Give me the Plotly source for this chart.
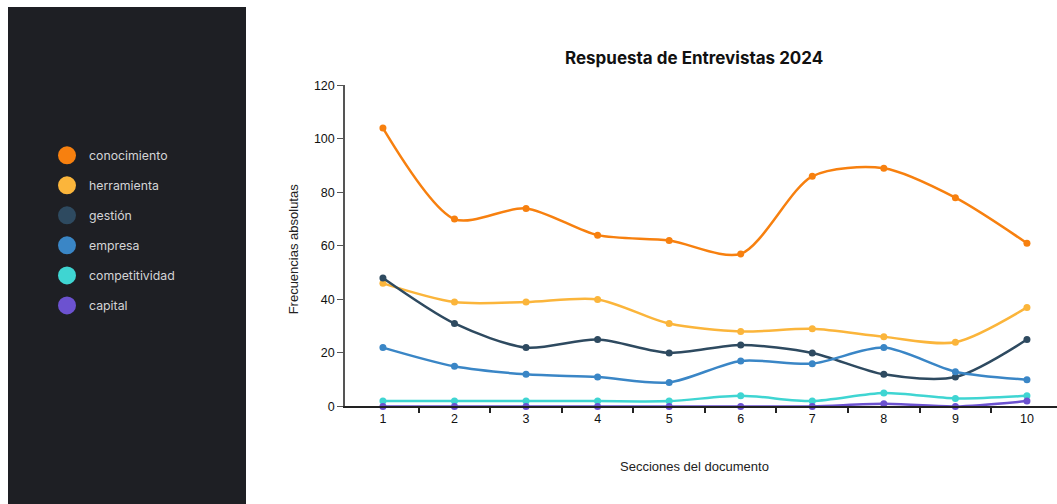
import plotly.graph_objects as go

W, H = 1057, 512
Y_OFF, Y_SCALE = 6.8, 0.972  # page-to-screen vertical placement

secciones = [1, 2, 3, 4, 5, 6, 7, 8, 9, 10]
conocimiento = [104, 70, 74, 64, 62, 57, 86, 89, 78, 61]
herramienta = [46, 39, 39, 40, 31, 28, 29, 26, 24, 37]
gestion = [48, 31, 22, 25, 20, 23, 20, 12, 11, 25]
empresa = [22, 15, 12, 11, 9, 17, 16, 22, 13, 10]
competitividad = [2, 2, 2, 2, 2, 4, 2, 5, 3, 4]
capital = [0, 0, 0, 0, 0, 0, 0, 1, 0, 2]

nombres = ["conocimiento", "herramienta", "gestión", "empresa", "competitividad", "capital"]
colores = ["#F7800F", "#FBB53B", "#2E4A60", "#3A86C6", "#3FD5D2", "#6C52D0"]
series = [conocimiento, herramienta, gestion, empresa, competitividad, capital]
y_ticks = [0, 20, 40, 60, 80, 100, 120]
# band boundaries between sections, where the x ticks sit
limites = [s + 0.5 for s in secciones[:-1]]

X_RANGE = [0.47, 10.42]

fig = go.Figure()
for nombre, color, valores in zip(nombres, colores, series):
    fig.add_trace(go.Scatter(
        x=secciones, y=valores, name=nombre, mode="lines+markers",
        line=dict(color=color, width=2.5, shape="spline", smoothing=0.8),
        marker=dict(color=color, size=7),
        cliponaxis=False, showlegend=False,
    ))

# empty trace so the boundary-tick axis gets drawn
fig.add_trace(go.Scatter(x=limites, y=[None] * len(limites), xaxis="x2",
                         mode="lines", showlegend=False, hoverinfo="skip"))


def px_x(p):
    return p / W


def px_y(p):
    return 1 - ((p - Y_OFF) / Y_SCALE) / H


shapes = [dict(type="rect", xref="paper", yref="paper", layer="below",
               x0=px_x(8), x1=px_x(246), y0=0, y1=1,
               fillcolor="#1E1F24", line=dict(width=0))]
annotations = []
r = 9
for i, (nombre, color) in enumerate(zip(nombres, colores)):
    cy = 155 + 30 * i
    shapes.append(dict(type="circle", xref="paper", yref="paper",
                       x0=px_x(67 - r), x1=px_x(67 + r),
                       y0=px_y(cy + r), y1=px_y(cy - r),
                       fillcolor=color, line=dict(width=0)))
    annotations.append(dict(x=px_x(87), y=px_y(cy), xref="paper", yref="paper",
                            text=nombre, showarrow=False, xanchor="left", yanchor="middle",
                            font=dict(family="Inter", size=12.3, color="#D4D4D6")))

annotations.append(dict(x=px_x(694), y=px_y(58), xref="paper", yref="paper",
                        text="<b>Respuesta de Entrevistas 2024</b>", showarrow=False,
                        xanchor="center", yanchor="middle",
                        font=dict(family="Inter", size=17, color="#111111")))
annotations.append(dict(x=px_x(694), y=px_y(466), xref="paper", yref="paper",
                        text="Secciones del documento", showarrow=False,
                        xanchor="center", yanchor="middle",
                        font=dict(family="Liberation Sans", size=13, color="#222222")))
annotations.append(dict(x=px_x(293), y=px_y(249), xref="paper", yref="paper",
                        text="Frecuencias absolutas", showarrow=False, textangle=-90,
                        xanchor="center", yanchor="middle",
                        font=dict(family="Liberation Sans", size=13, color="#222222")))

tick_font = dict(family="Liberation Sans", size=12.5, color="#111111")

fig.update_layout(
    width=W, height=H,
    margin=dict(l=0, r=0, t=0, b=0),
    paper_bgcolor="white", plot_bgcolor="white",
    shapes=shapes, annotations=annotations,
    xaxis=dict(domain=[px_x(345), 1], range=X_RANGE,
               tickvals=secciones, ticktext=[str(s) for s in secciones],
               ticks="", showgrid=False, zeroline=False,
               showline=True, linecolor="#222222", linewidth=1.5,
               tickfont=tick_font),
    xaxis2=dict(domain=[px_x(345), 1], range=X_RANGE, overlaying="x", anchor="y",
                side="bottom", tickvals=limites, showticklabels=False,
                ticks="outside", ticklen=6, tickcolor="#222222", tickwidth=1.5,
                showgrid=False, zeroline=False, showline=False),
    yaxis=dict(domain=[px_y(406), px_y(85)], range=[0, 120],
               tickvals=y_ticks, ticks="outside", ticklen=6, tickcolor="#555555",
               tickwidth=1, showgrid=False, zeroline=False,
               showline=True, linecolor="#555555", linewidth=1.5,
               tickfont=tick_font),
)

fig.write_html("out.html")
